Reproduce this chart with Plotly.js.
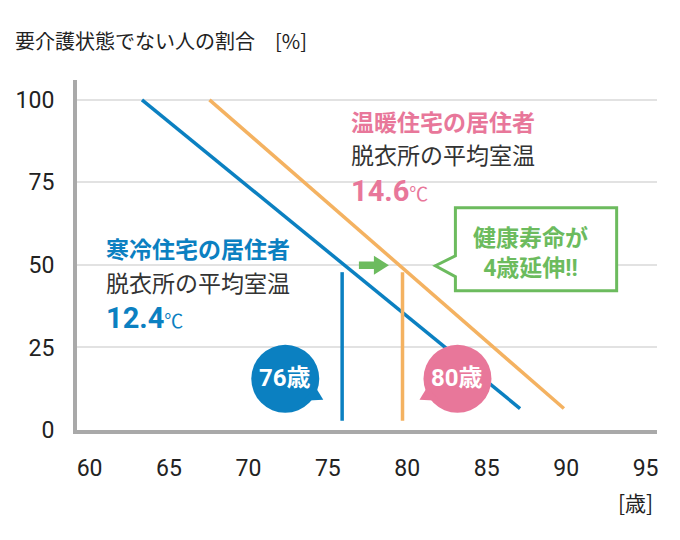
<!DOCTYPE html>
<html>
<head>
<meta charset="utf-8">
<script src="https://cdn.plot.ly/plotly-3.0.1.min.js"></script>
<style>html,body{margin:0;padding:0;background:#fff;}#chart{width:680px;height:540px;}</style>
</head>
<body>
<div id="chart"></div>
<script>
// ---- data ----
const ageCold = [63.3, 87.1];      // 寒冷住宅の居住者
const pctCold = [100, 6.5];
const ageWarm = [67.55, 89.86];    // 温暖住宅の居住者
const pctWarm = [100, 6.5];
const healthyAgeCold = [75.9, 75.9];
const healthyAgeWarm = [79.7, 79.7];
const healthyMarkPct = [47.8, 2.8];
const xTickVals = [60, 65, 70, 75, 80, 85, 90, 95];
const yTickVals = [0, 25, 50, 75, 100];
const coldLabel = ['寒冷住宅の居住者', '脱衣所の平均室温', '12.4'];
const warmLabel = ['温暖住宅の居住者', '脱衣所の平均室温', '14.6'];
const badgeCold = '76歳';
const badgeWarm = '80歳';
const calloutText = ['健康寿命が', '4歳延伸!!'];
const titleText = '要介護状態でない人の割合　[%]';
const xUnit = '[歳]';

// ---- styles ----
const BLUE = '#0b80c1';
const ORANGE = '#f4b261';
const PINK = '#e8779a';
const GREEN = '#6cbb5e';
const DARK = '#333333';
const JP = '"Noto Sans CJK JP", sans-serif';
const NUM = 'Roboto, "Noto Sans CJK JP", sans-serif';

const traces = [
  {x: ageCold, y: pctCold, mode: 'lines', line: {color: BLUE, width: 3.5}, hoverinfo: 'skip'},
  {x: ageWarm, y: pctWarm, mode: 'lines', line: {color: ORANGE, width: 3.5}, hoverinfo: 'skip'},
  {x: healthyAgeCold, y: healthyMarkPct, mode: 'lines', line: {color: BLUE, width: 3.5}, hoverinfo: 'skip'},
  {x: healthyAgeWarm, y: healthyMarkPct, mode: 'lines', line: {color: ORANGE, width: 3.5}, hoverinfo: 'skip'}
];

function bubble(cx, cy, color, tailPath) {
  return [
    {type: 'circle', xref: 'x', yref: 'y', xsizemode: 'pixel', ysizemode: 'pixel',
     xanchor: cx, yanchor: cy, x0: -34, x1: 34, y0: -34, y1: 34,
     fillcolor: color, line: {width: 0}, layer: 'above'},
    {type: 'path', xref: 'x', yref: 'y', xsizemode: 'pixel', ysizemode: 'pixel',
     xanchor: cx, yanchor: cy, path: tailPath,
     fillcolor: color, line: {width: 0}, layer: 'above'}
  ];
}

const shapes = [].concat(
  bubble(72.32, 15.5, BLUE, 'M 30,-8 L 38,-21 L 18,-22 Z'),
  bubble(83.16, 15.5, PINK, 'M -30,-8 L -38,-21 L -18,-22 Z'),
  [
    // callout box
    {type: 'path', xref: 'x', yref: 'y',
     path: 'M 83.03,67.3 L 93.18,67.3 L 93.18,42.17 L 83.03,42.17 L 83.03,46.41 L 81.77,49.74 L 83.03,52.77 Z',
     fillcolor: '#ffffff', line: {color: GREEN, width: 3}, layer: 'above'},
    // green arrow
    {type: 'path', xref: 'x', yref: 'y', xsizemode: 'pixel', ysizemode: 'pixel',
     xanchor: 77.9, yanchor: 49.9,
     path: 'M -15,-3.8 L 0,-3.8 L 0,-9.5 L 15,0 L 0,9.5 L 0,3.8 L -15,3.8 Z',
     fillcolor: GREEN, line: {width: 0}, layer: 'above'}
  ]
);

function tempText(value) {
  return '<b>' + value + '</b><span style="font-size:19px">℃</span>';
}

const annotations = [
  {x: 60.9, y: 55.2, text: '<b>' + coldLabel[0] + '</b>', font: {family: JP, size: 23, color: BLUE}},
  {x: 60.9, y: 44.9, text: coldLabel[1], font: {family: JP, size: 23, color: DARK}},
  {x: 60.9, y: 34.0, text: tempText(coldLabel[2]), font: {family: NUM, size: 29, color: BLUE}},
  {x: 76.35, y: 93.6, text: '<b>' + warmLabel[0] + '</b>', font: {family: JP, size: 23, color: PINK}},
  {x: 76.35, y: 83.7, text: warmLabel[1], font: {family: JP, size: 23, color: DARK}},
  {x: 76.35, y: 72.5, text: tempText(warmLabel[2]), font: {family: NUM, size: 29, color: PINK}},
  {x: 87.76, y: 53.6, xanchor: 'center', text: '<b>' + calloutText.join('<br>') + '</b>', font: {family: NUM, size: 23, color: GREEN}},
  {x: 72.32, y: 15.7, xanchor: 'center', text: '<b>' + badgeCold + '</b>', font: {family: NUM, size: 24, color: '#ffffff'}},
  {x: 83.16, y: 15.7, xanchor: 'center', text: '<b>' + badgeWarm + '</b>', font: {family: NUM, size: 24, color: '#ffffff'}},
  {xref: 'paper', yref: 'paper', x: 0.997, y: -0.206, xanchor: 'right', text: xUnit, font: {family: JP, size: 21, color: '#222'}}
].map(a => Object.assign({xref: 'x', yref: 'y', xanchor: 'left', yanchor: 'middle', showarrow: false}, a));

const layout = {
  width: 680, height: 540,
  margin: {l: 77, r: 23, t: 80, b: 110},
  paper_bgcolor: '#ffffff', plot_bgcolor: '#ffffff',
  showlegend: false,
  title: {text: titleText, xref: 'container', yref: 'container', x: 0.022, xanchor: 'left', y: 0.922, yanchor: 'middle',
          font: {family: JP, size: 20, color: '#222'}},
  xaxis: {range: [59.21, 95.72], tickvals: xTickVals, showgrid: false, zeroline: false,
          showline: true, linecolor: '#a9a9a9', linewidth: 4, ticks: '', ticklabelstandoff: 14,
          tickfont: {family: NUM, size: 23, color: '#222'}, fixedrange: true},
  yaxis: {range: [0, 106], tickvals: yTickVals, showgrid: true, gridcolor: '#e2e2e2', gridwidth: 2, zeroline: false,
          showline: true, linecolor: '#a9a9a9', linewidth: 4, ticks: '', ticklabelstandoff: 14,
          tickfont: {family: NUM, size: 23, color: '#222'}, fixedrange: true},
  shapes: shapes,
  annotations: annotations
};

Plotly.newPlot('chart', traces, layout, {displayModeBar: false, staticPlot: true});
</script>
</body>
</html>
